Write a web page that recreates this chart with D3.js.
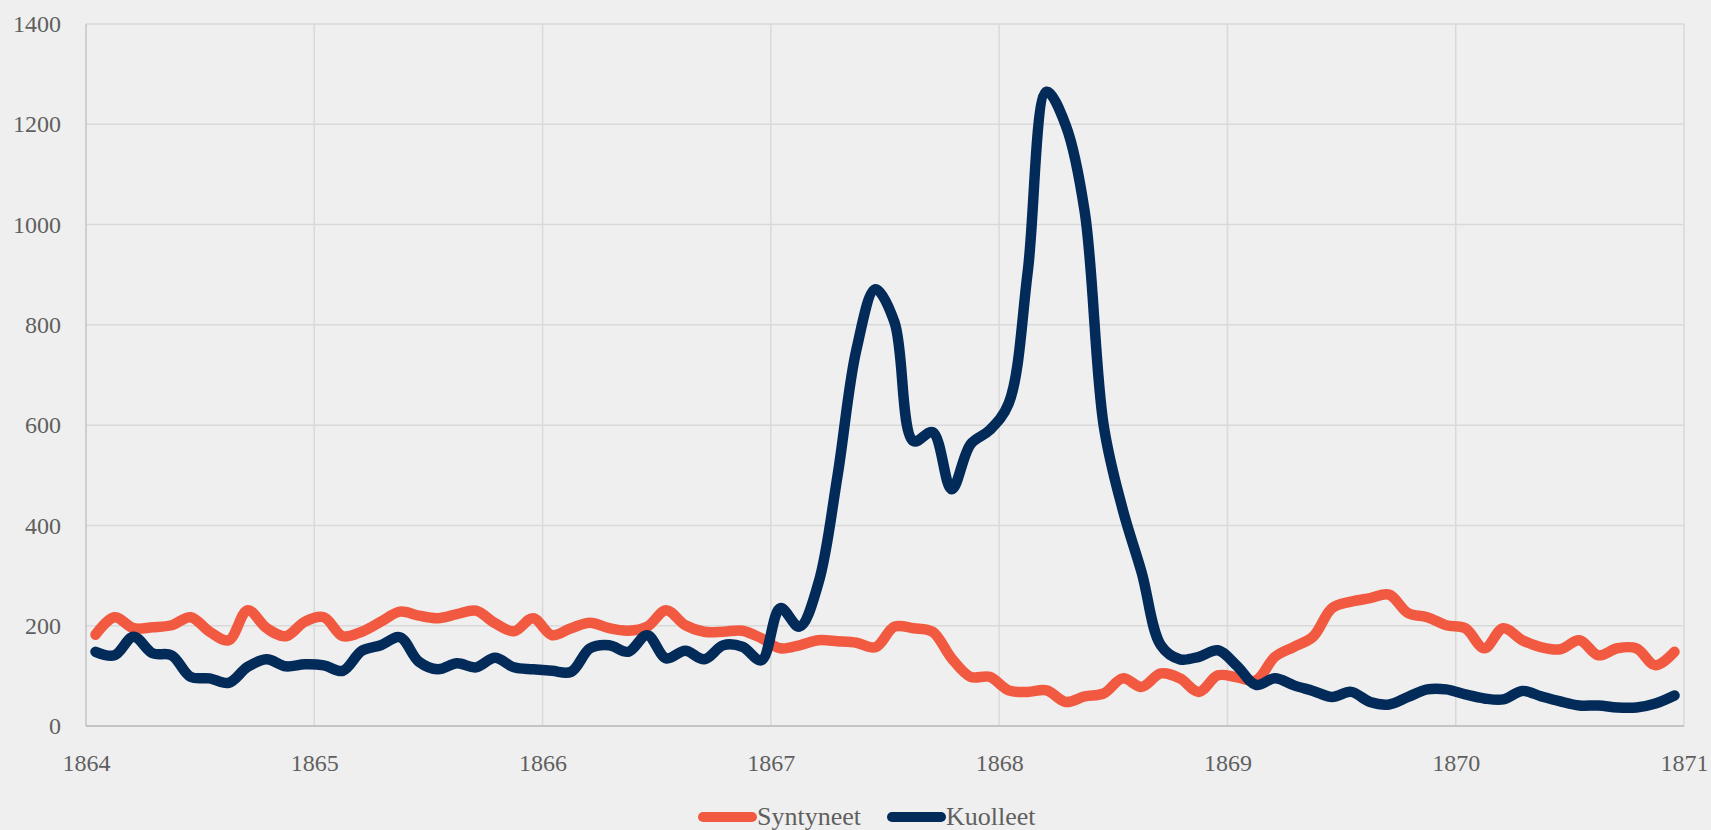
<!DOCTYPE html>
<html>
<head>
<meta charset="utf-8">
<script src="https://cdn.jsdelivr.net/npm/d3@7"></script>
<style>
  html, body { margin: 0; padding: 0; background: #efefef; }
  svg { display: block; }
  text { font-family: "Liberation Serif", "Palatino Linotype", Palatino, serif; fill: #5f5f5f; }
</style>
</head>
<body>
<svg id="chart" width="1711" height="830"></svg>
<script>
// Monthly births and deaths, January 1864 – December 1870
const startYear = 1864;
const endYear = 1871;
const yearTicks = [1864, 1865, 1866, 1867, 1868, 1869, 1870, 1871];
const valueTicks = [0, 200, 400, 600, 800, 1000, 1200, 1400];
const seriesNames = ["Syntyneet", "Kuolleet"];
const seriesColors = ["#f15a40", "#022b5a"];

const syntyneet = [
  182, 217, 195, 197, 201, 217, 188, 171, 231, 195, 179, 208,
  217, 179, 188, 208, 228, 220, 215, 223, 230, 205, 189, 215,
  181, 195, 206, 195, 190, 198, 231, 201, 188, 188, 190, 175,
  155, 161, 171, 169, 166, 157, 198, 195, 188, 135, 98, 98,
  71, 68, 71, 48, 59, 65, 95, 78, 105, 95, 68, 101,
  97, 91, 138, 158, 178, 235, 248, 255, 262, 225, 217, 201,
  195, 155, 195, 171, 157, 153, 171, 141, 155, 155, 121, 148
];

const kuolleet = [
  148, 141, 178, 145, 141, 98, 95, 86, 118, 133, 119, 123,
  121, 110, 150, 161, 177, 128, 113, 125, 117, 136, 117, 113,
  110, 108, 155, 161, 148, 181, 135, 150, 133, 161, 158, 131,
  235, 198, 285, 498, 751, 871, 805, 568, 586, 472, 562, 590,
  643, 905, 1265, 1198, 1025, 598, 431, 305, 161, 133, 138, 151,
  120, 82, 95, 81, 70, 58, 68, 48, 43, 58, 73, 73,
  63, 55, 53, 70, 59, 49, 41, 41, 37, 37, 45, 61
];

const svg = d3.select("#chart");
const plot = { left: 86, right: 1684, top: 24, bottom: 726 };

const x = d3.scaleLinear().domain([startYear, endYear]).range([plot.left, plot.right]);
const y = d3.scaleLinear().domain([0, 1400]).range([plot.bottom, plot.top]);

// each month's value sits in the middle of its month
const monthPos = i => startYear + (i + 0.5) / 12;

// horizontal gridlines
svg.append("g")
  .selectAll("line")
  .data(valueTicks.filter(v => v > 0))
  .join("line")
  .attr("x1", plot.left).attr("x2", plot.right)
  .attr("y1", d => y(d)).attr("y2", d => y(d))
  .attr("stroke", "#d9d9d9").attr("stroke-width", 1.5);

// vertical gridlines
svg.append("g")
  .selectAll("line")
  .data(yearTicks.filter(t => t > startYear))
  .join("line")
  .attr("x1", d => x(d)).attr("x2", d => x(d))
  .attr("y1", plot.top).attr("y2", plot.bottom)
  .attr("stroke", "#d9d9d9").attr("stroke-width", 1.5);

// axis lines
svg.append("line")
  .attr("x1", plot.left).attr("x2", plot.left)
  .attr("y1", plot.top).attr("y2", plot.bottom)
  .attr("stroke", "#c4c4c4").attr("stroke-width", 1.5);
svg.append("line")
  .attr("x1", plot.left).attr("x2", plot.right)
  .attr("y1", plot.bottom).attr("y2", plot.bottom)
  .attr("stroke", "#c4c4c4").attr("stroke-width", 2);

// y tick labels
const yAxis = d3.axisLeft(y).tickValues(valueTicks).tickSize(0).tickPadding(25).tickFormat(d3.format("d"));
const gy = svg.append("g").attr("transform", `translate(${plot.left},0)`).call(yAxis);
gy.select(".domain").remove();
gy.selectAll("text").style("font-size", "24px").attr("fill", "#5f5f5f")
  .attr("dy", "0.32em");

// x tick labels
const xAxis = d3.axisBottom(x).tickValues(yearTicks).tickSize(0).tickPadding(28).tickFormat(d3.format("d"));
const gx = svg.append("g").attr("transform", `translate(0,${plot.bottom})`).call(xAxis);
gx.select(".domain").remove();
gx.selectAll("text").style("font-size", "24px").attr("fill", "#5f5f5f");

// smoothed series lines
const line = d3.line()
  .x((d, i) => x(monthPos(i)))
  .y(d => y(d))
  .curve(d3.curveCatmullRom.alpha(0.5));

[syntyneet, kuolleet].forEach((vals, k) => {
  svg.append("path")
    .datum(vals)
    .attr("d", line)
    .attr("fill", "none")
    .attr("stroke", seriesColors[k])
    .attr("stroke-width", 10.5)
    .attr("stroke-linecap", "round")
    .attr("stroke-linejoin", "round");
});

// legend
const legend = svg.append("g");
const swatch = 59, gap = 26, legendY = 817;
let lx = 698;
seriesNames.forEach((name, k) => {
  legend.append("line")
    .attr("x1", lx + 5).attr("x2", lx + swatch - 5)
    .attr("y1", legendY).attr("y2", legendY)
    .attr("stroke", seriesColors[k]).attr("stroke-width", 10)
    .attr("stroke-linecap", "round");
  const t = legend.append("text")
    .attr("x", lx + swatch).attr("y", legendY + 8)
    .style("font-size", "26px")
    .text(name);
  lx += swatch + t.node().getComputedTextLength() + gap;
});
</script>
</body>
</html>
